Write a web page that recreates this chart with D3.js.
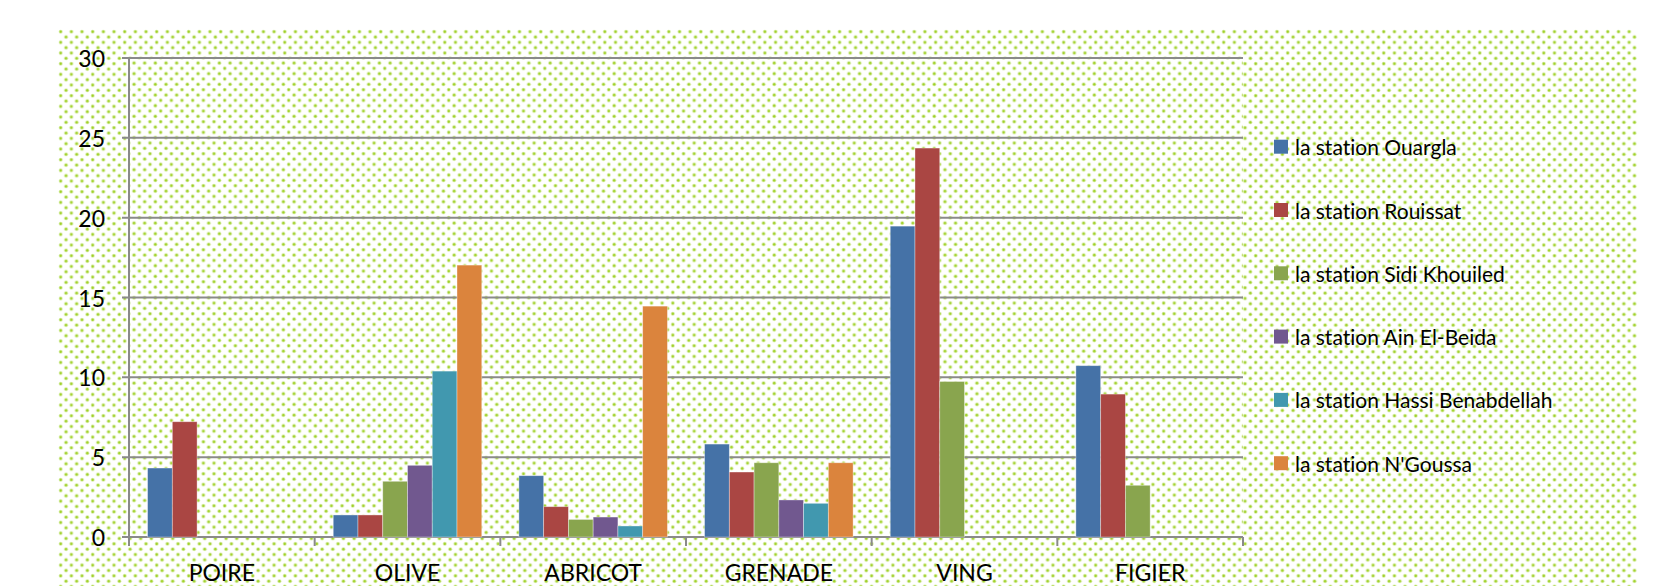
<!DOCTYPE html>
<html>
<head>
<meta charset="utf-8">
<script src="https://cdn.jsdelivr.net/npm/d3@7"></script>
<style>
  html, body { margin: 0; padding: 0; background: #ffffff; }
  svg { display: block; }
  text { font-family: Lato, "Open Sans", sans-serif; fill: #000; font-variant-ligatures: none; }
</style>
</head>
<body>
<svg id="chart" width="1671" height="586"></svg>
<script>
const categories = ["POIRE", "OLIVE", "ABRICOT", "GRENADE", "VING", "FIGIER"];
const series = ["la station Ouargla", "la station Rouissat", "la station Sidi Khouiled",
                "la station Ain El-Beida", "la station Hassi Benabdellah", "la station N'Goussa"];
const ouargla   = [4.32, 1.38, 3.84, 5.82, 19.47, 10.73];
const rouissat  = [7.22, 1.38, 1.90, 4.07, 24.36, 8.95];
const sidiKhouiled = [null, 3.49, 1.10, 4.65, 9.74, 3.24];
const ainElBeida   = [null, 4.49, 1.25, 2.32, null, null];
const hassiBenabdellah = [null, 10.39, 0.69, 2.11, null, null];
const nGoussa   = [null, 17.03, 14.46, 4.65, null, null];
const yTicks = [0, 5, 10, 15, 20, 25, 30];
const colors = ["#4572A7", "#AA4643", "#89A54E", "#71588F", "#4198AF", "#DB843D"];

const values = [ouargla, rouissat, sidiKhouiled, ainElBeida, hassiBenabdellah, nGoussa];

const svg = d3.select("#chart");
const defs = svg.append("defs");

function makePattern(id, ox, oy) {
  const s = 10.67;
  const p = defs.append("pattern").attr("id", id)
    .attr("patternUnits", "userSpaceOnUse")
    .attr("x", ox).attr("y", oy).attr("width", s).attr("height", s);
  [[s * 0.25, s * 0.25], [s * 0.75, s * 0.75]].forEach(([cx, cy]) => {
    p.append("circle").attr("cx", cx).attr("cy", cy).attr("r", 2.0).attr("fill", "#d5eca3");
    p.append("circle").attr("cx", cx).attr("cy", cy).attr("r", 1.15).attr("fill", "#9fd026");
  });
}
makePattern("dotsOuter", 58, 29);
makePattern("dotsInner", 126, 55);

const pLeft = 129, pRight = 1243, pTop = 58, pBottom = 537;

svg.append("rect").attr("x", 58).attr("y", 29).attr("width", 1579).attr("height", 600)
  .attr("fill", "url(#dotsOuter)");
svg.append("rect").attr("x", pLeft).attr("y", pTop).attr("width", pRight - pLeft).attr("height", pBottom - pTop)
  .attr("fill", "#fff");
svg.append("rect").attr("x", pLeft).attr("y", pTop).attr("width", pRight - pLeft).attr("height", pBottom - pTop)
  .attr("fill", "url(#dotsInner)");

const x0 = d3.scaleBand().domain(categories).range([pLeft, pRight]).paddingInner(0).paddingOuter(0);
const x1 = d3.scaleBand().domain(series).range([0, x0.bandwidth()]).paddingInner(0).paddingOuter(0.75);
const y = d3.scaleLinear().domain([0, 30]).range([pBottom, pTop]);

// gridlines
svg.append("g").selectAll("line").data(yTicks).join("line")
  .attr("x1", pLeft - 7).attr("x2", pRight)
  .attr("y1", d => y(d)).attr("y2", d => y(d))
  .attr("stroke", "#8a8a8a").attr("stroke-width", 2);

// y axis line
svg.append("line").attr("x1", pLeft).attr("x2", pLeft).attr("y1", pTop).attr("y2", pBottom + 9)
  .attr("stroke", "#8a8a8a").attr("stroke-width", 2);

// category boundary ticks
const bounds = categories.map(c => x0(c)).concat([pRight]);
svg.append("g").selectAll("line").data(bounds).join("line")
  .attr("x1", d => d).attr("x2", d => d).attr("y1", pBottom).attr("y2", pBottom + 9)
  .attr("stroke", "#8a8a8a").attr("stroke-width", 2);

// bars
const bars = [];
categories.forEach((c, ci) => {
  series.forEach((s, si) => {
    const v = values[si][ci];
    if (v != null) bars.push({ c, s, si, v });
  });
});
svg.append("g").selectAll("rect").data(bars).join("rect")
  .attr("x", d => x0(d.c) + x1(d.s))
  .attr("y", d => y(d.v))
  .attr("width", x1.bandwidth())
  .attr("height", d => y(0) - y(d.v))
  .attr("fill", d => colors[d.si])
  .attr("stroke", "rgba(255,255,255,0.45)").attr("stroke-width", 0.8);

// y tick labels
svg.append("g").selectAll("text").data(yTicks).join("text")
  .attr("x", 105).attr("y", d => y(d))
  .attr("text-anchor", "end").attr("dominant-baseline", "central")
  .style("font-size", "23px")
  .text(d => d);

// category labels
svg.append("g").selectAll("text").data(categories).join("text")
  .attr("x", d => x0(d) + x0.bandwidth() / 2).attr("y", 572)
  .attr("text-anchor", "middle").attr("dominant-baseline", "central")
  .style("font-size", "23px")
  .text(d => d);

// legend
const lg = svg.append("g").selectAll("g").data(series).join("g")
  .attr("transform", (d, i) => `translate(1274, ${146.7 + i * 63.3})`);
lg.append("rect").attr("x", 0).attr("y", -7).attr("width", 14).attr("height", 14)
  .attr("fill", (d, i) => colors[i]);
lg.append("text").attr("x", 21).attr("y", 0).attr("dominant-baseline", "central")
  .style("font-size", "21px")
  .text(d => d);
</script>
</body>
</html>
